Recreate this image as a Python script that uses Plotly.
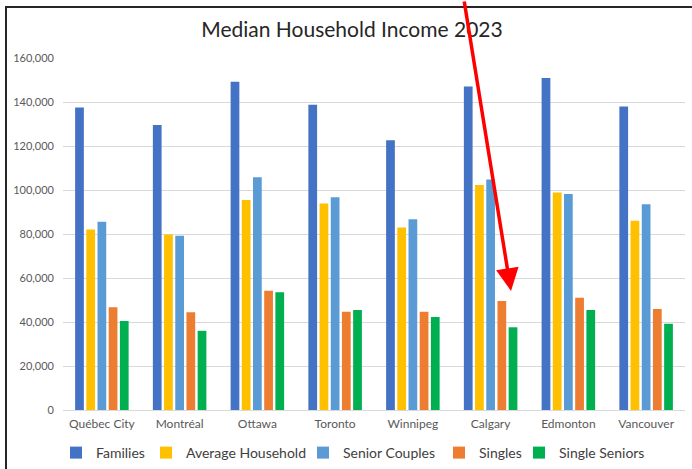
import plotly.graph_objects as go

cities = ["Québec City", "Montréal", "Ottawa", "Toronto", "Winnipeg", "Calgary", "Edmonton", "Vancouver"]
families = [137500, 129500, 149200, 138800, 122600, 147000, 150900, 137900]
average_household = [82100, 79800, 95500, 93900, 82900, 102300, 98900, 86000]
senior_couples = [85600, 79200, 105800, 96700, 86700, 104800, 98200, 93500]
singles = [46700, 44400, 54200, 44700, 44700, 49500, 51000, 45900]
single_seniors = [40500, 36000, 53500, 45500, 42300, 37600, 45500, 39200]

series = [
    ("Families", families, "#4472C4"),
    ("Average Household", average_household, "#FFC000"),
    ("Senior Couples", senior_couples, "#5B9BD5"),
    ("Singles", singles, "#ED7D31"),
    ("Single Seniors", single_seniors, "#00B050"),
]

W, H = 692, 469
ML, MR, MT, MB = 63, 7, 58, 59
PW, PH = W - ML - MR, H - MT - MB

def px_x(x):
    return (x - ML) / PW

def px_y(y):
    return (H - MB - y) / PH

# legend entry left edges (pixels)
legend_left = [56, 146, 303, 439, 519]
legend_ids = ["legend", "legend2", "legend3", "legend4", "legend5"]

fig = go.Figure()
for (name, vals, col), lid in zip(series, legend_ids):
    fig.add_trace(go.Bar(x=cities, y=vals, name=name, legend=lid,
                         marker=dict(color=col, line=dict(width=0))))

layout_legends = {}
for lid, lx in zip(legend_ids, legend_left):
    layout_legends[lid] = dict(orientation="h", x=px_x(lx), xanchor="left",
                               y=px_y(453), yanchor="middle", bgcolor="rgba(0,0,0,0)",
                               font=dict(size=14, color="#404040"), itemwidth=30)

fig.update_layout(
    width=W, height=H,
    margin=dict(l=ML, r=MR, t=MT, b=MB, autoexpand=False),
    paper_bgcolor="white", plot_bgcolor="white",
    font=dict(family="Lato, Open Sans, sans-serif", color="#595959"),
    title=dict(text="Median Household Income 2023", x=px_x(352), xanchor="center",
               y=1 - 30 / H, yanchor="middle", xref="paper",
               font=dict(size=21, color="#262626")),
    barmode="group", bargap=0.28, bargroupgap=0.22,
    showlegend=True,
    xaxis=dict(showgrid=False, showline=True, linecolor="#D9D9D9", ticks="",
               tickfont=dict(size=12, color="#595959"), ticklabelstandoff=3),
    yaxis=dict(range=[0, 160000], dtick=20000, tickformat=",", showgrid=True, gridcolor="#D9D9D9",
               zeroline=False, showline=False, ticks="", tickfont=dict(size=11, color="#595959"),
               ticklabelstandoff=8),
    **layout_legends,
)

# frame lines of the screenshot
fig.add_shape(type="line", xref="paper", yref="paper", x0=px_x(6), x1=px_x(692), y0=px_y(7), y1=px_y(7),
              line=dict(color="#262626", width=2))
fig.add_shape(type="line", xref="paper", yref="paper", x0=px_x(6), x1=px_x(6), y0=px_y(6), y1=px_y(469),
              line=dict(color="#262626", width=2))

# red arrow
fig.add_annotation(xref="paper", yref="paper", x=px_x(511), y=px_y(291), ax=-47, ay=-300,
                   text="", showarrow=True, arrowhead=2, arrowsize=1.3, arrowwidth=3.5, arrowcolor="#FF0000")

fig.write_html("out.html")
